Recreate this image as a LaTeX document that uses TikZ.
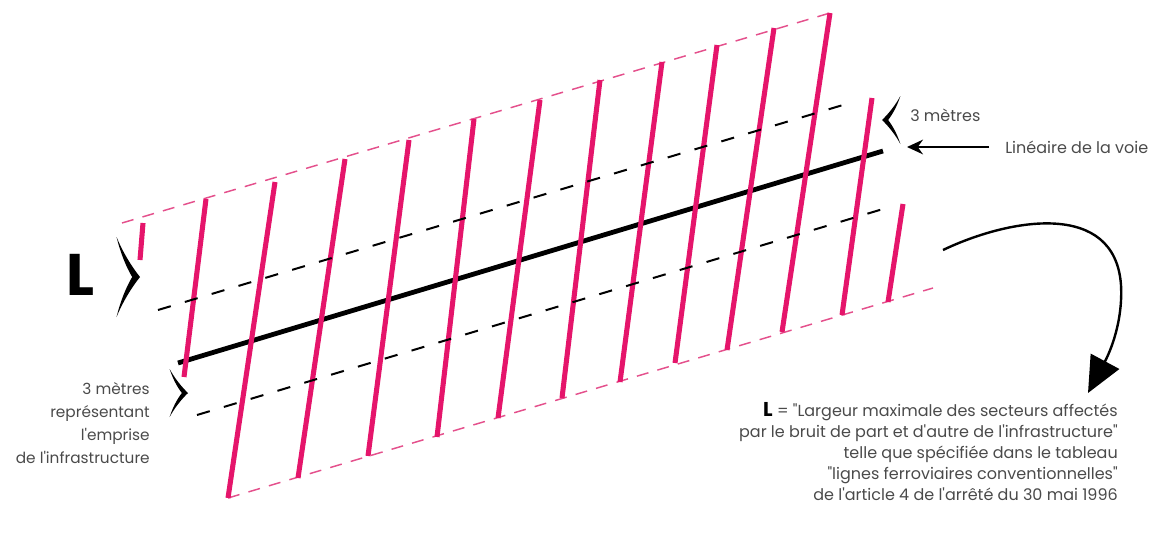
\documentclass[tikz,border=0pt]{standalone}
\usepackage{fontspec}
\newfontfamily\pop{Poppins}
\usetikzlibrary{arrows.meta}
\definecolor{pinkline}{HTML}{E5156B}
\definecolor{pinkdash}{HTML}{E4508C}
\definecolor{txtgray}{HTML}{4A4A4A}
\tikzset{
 hatch/.style={draw=pinkline, line width=3.8pt, line cap=butt},
 pdash/.style={draw=pinkdash, line width=1.1pt, dash pattern=on 9pt off 7pt},
 bdash/.style={draw=black, line width=1.5pt, dash pattern=on 10pt off 11pt},
 track/.style={draw=black, line width=3.6pt},
 lbl/.style={text=txtgray, font=\pop\fontsize{12}{15.75}\selectfont, inner sep=0pt},
 pointer/.style={draw=black, line width=1.6pt, -{Stealth[length=12pt,width=11pt,inset=4pt]}},
 bigarrow/.style={draw=black, line width=1.8pt, -{Triangle[length=27pt,width=24pt]}},
}
\newcommand\brkshape[4]{%
 \begin{scope}[shift={(#1,#2)}, xscale=#3, yscale=#4]
  \fill (-1.02,-1) .. controls (-0.75,-0.62) and (-0.35,-0.25) .. (0,0)
   .. controls (-0.35,0.25) and (-0.75,0.62) .. (-1.02,1)
   .. controls (-0.85,0.6) and (-0.6,0.25) .. (-0.34,0)
   .. controls (-0.6,-0.25) and (-0.85,-0.6) .. (-1.02,-1) -- cycle;
 \end{scope}}
\begin{document}
\begin{tikzpicture}[x=0.75pt, y=-0.75pt]
\useasboundingbox (0,0) rectangle (1159,535);
% band outline
\coordinate (tl) at (122,223); \coordinate (tr) at (830,13);
\coordinate (bl) at (228,498); \coordinate (br) at (933,288);
\draw[pdash] (tl) -- (tr);
\draw[pdash] (bl) -- (br);
% track
\coordinate (ta) at (178,363); \coordinate (tb) at (883,151);
\draw[track] (ta) -- (tb);
% hatching
\foreach \xa/\ya/\xb/\yb [count=\i] in {
 143/223/140/260, 206/199/184/377, 275/182/228/498, 345/159/298/478,
 409/140/368/456, 474/119/437/437, 540/100/498/418, 600/80/562/398,
 662/62/620/382, 717/45/675/363, 774/28/727/350, 830/13/782/332,
 872/98/842/315, 903/204/888/302}{
 \coordinate (h\i a) at (\xa,\ya); \coordinate (h\i b) at (\xb,\yb);
 \draw[hatch] (h\i a) -- (h\i b);
}
% 3 m limits
\coordinate (ua) at (158,310); \coordinate (ub) at (853,102);
\coordinate (la) at (197,415); \coordinate (lb) at (893,206);
\draw[bdash] (ua) -- (ub);
\draw[bdash] (la) -- (lb);
% brackets
\brkshape{140}{277}{23}{40}
\brkshape{188}{393}{18}{24}
\brkshape{882}{120}{-18}{24}
% labels
\node[font=\pop\bfseries\fontsize{44}{44}\selectfont, inner sep=0pt] (L) at (80,275) {L};
\node[lbl, anchor=east, align=right, font=\pop\fontsize{11.5}{17.25}\selectfont] (emp) at (150,423)
 {3 mètres\\représentant\\l'emprise\\de l'infrastructure};
\node[lbl, anchor=west] (trois) at (910,115) {3 mètres};
\node[lbl, anchor=west] (lin) at (1005,147) {Linéaire de la voie};
\coordinate (linend) at (907,147);
\draw[pointer] ([xshift=-12pt]lin.west) -- (linend);
\node[lbl, anchor=east, align=right] (def) at (1118,452)
 {{\color{black}\bfseries\fontsize{15}{15}\selectfont L} = "Largeur maximale des secteurs affectés\\
 par le bruit de part et d'autre de l'infrastructure"\\
 telle que spécifiée dans le tableau\\
 "lignes ferroviaires conventionnelles"\\
 de l'article 4 de l'arrêté du 30 mai 1996};
\coordinate (cs) at (943,250);
\coordinate (ce) at (1088,393);
\draw[bigarrow] (cs) .. controls (1010,218) and (1115,200) .. (1121,285)
 .. controls (1123,322) and (1110,352) .. (ce);
\end{tikzpicture}
\end{document}
